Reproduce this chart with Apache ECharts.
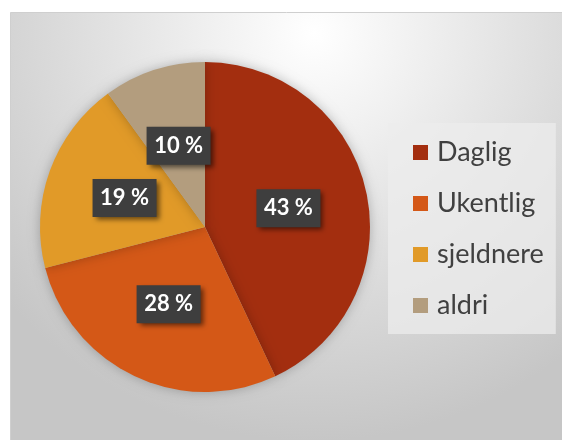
<!DOCTYPE html>
<html><head><meta charset="utf-8">
<script src="https://cdn.jsdelivr.net/npm/echarts@6/dist/echarts.min.js"></script>
<style>html,body{margin:0;padding:0;background:#fff}#c{width:562px;height:440px}</style>
</head><body><div id="c"></div>
<script>
const categories = ['Daglig', 'Ukentlig', 'sjeldnere', 'aldri'];
const values = [43, 28, 19, 10];
const colors = ['#A32E0F', '#D45817', '#E19A28', '#B39D7E'];

const chart = echarts.init(document.getElementById('c'), null, {renderer: 'canvas'});
chart.setOption({
  animation: false,
  backgroundColor: '#ffffff',
  graphic: [{
    type: 'rect', left: 10, top: 12, z: -10,
    shape: {width: 552, height: 428},
    style: {
      fill: {type: 'radial', x: 0.55, y: 0.05, r: 0.95,
        colorStops: [{offset: 0, color: '#ffffff'}, {offset: 0.5, color: '#e2e2e2'}, {offset: 1, color: '#c6c6c6'}]},
      stroke: '#cfcfcf', lineWidth: 1
    }
  }],
  legend: {
    orient: 'vertical', left: 388, top: 123,
    backgroundColor: 'rgba(236,236,236,0.75)',
    padding: [16, 12, 15, 25],
    itemWidth: 15, itemHeight: 15, itemGap: 24,
    icon: 'rect',
    data: categories,
    textStyle: {fontFamily: 'Lato', fontSize: 27, lineHeight: 26, color: '#404040', padding: [0, 0, 0, 4]}
  },
  series: [{
    type: 'pie',
    center: [205, 227], radius: 165,
    startAngle: 90, clockwise: true,
    data: categories.map((n, i) => ({name: n, value: values[i], itemStyle: {color: colors[i]}})),
    itemStyle: {shadowBlur: 12, shadowColor: 'rgba(0,0,0,0.25)'},
    label: {
      position: 'inside',
      formatter: '{c} %',
      color: '#ffffff', fontFamily: 'Lato', fontWeight: 'bold', fontSize: 22, lineHeight: 22,
      backgroundColor: '#3e3e3e',
      padding: [8, 9, 8, 9],
      width: 46, align: 'center', overflow: 'none',
      shadowBlur: 5, shadowOffsetX: 3, shadowOffsetY: 3, shadowColor: 'rgba(0,0,0,0.55)'
    },
    labelLine: {show: false}
  }]
});
</script></body></html>
